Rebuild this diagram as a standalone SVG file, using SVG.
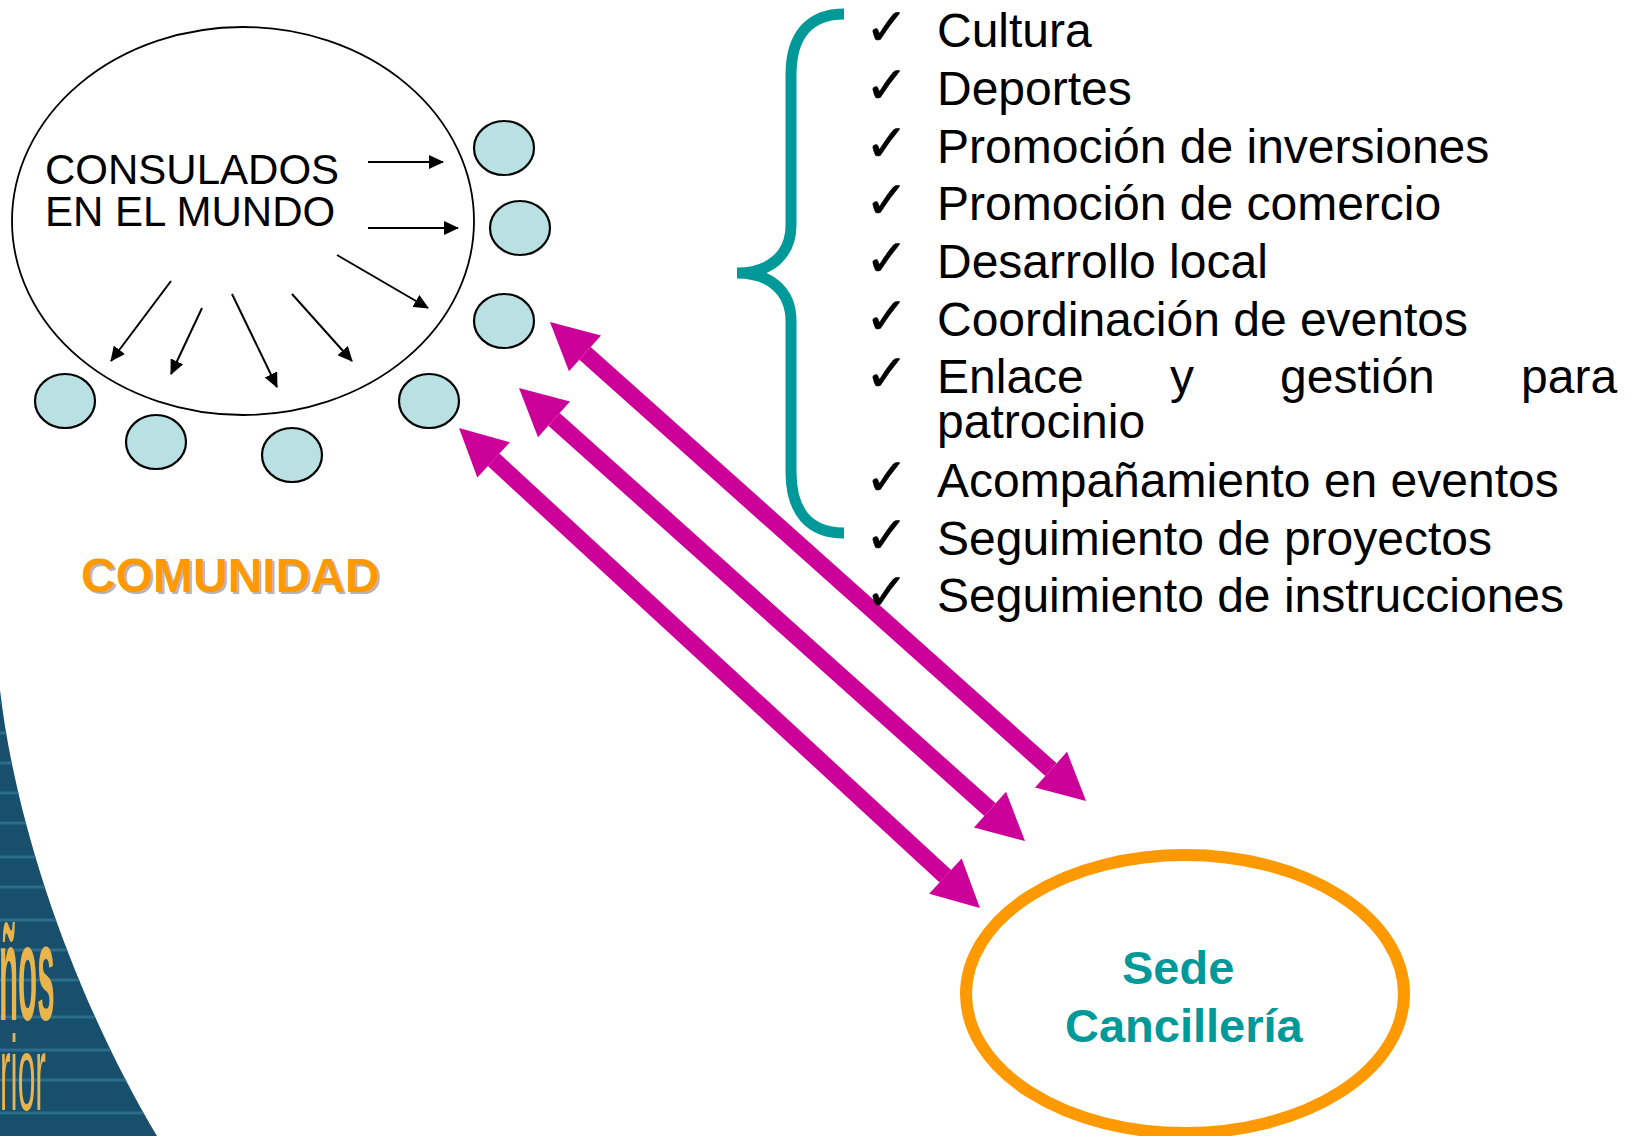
<svg xmlns="http://www.w3.org/2000/svg" width="1631" height="1136" viewBox="0 0 1631 1136">
<defs>
<style>
.bk{font-family:"Liberation Sans",Arial,sans-serif;fill:#000}
.li{font-family:"Liberation Sans",Arial,sans-serif;font-size:48px;fill:#000}
.ck{font-family:"DejaVu Sans",sans-serif;font-size:52px;fill:#000;stroke:#000;stroke-width:0.5}
.sat{fill:#B9E0E3;stroke:#000;stroke-width:2.2}
.thin{stroke:#000;stroke-width:2;fill:none;marker-end:url(#ah)}
.mag{stroke:#CC0099;stroke-width:17;fill:none;marker-start:url(#mh);marker-end:url(#mh)}
.stripe{stroke:#2C6D8B;stroke-width:3}
</style>
<marker id="ah" markerUnits="userSpaceOnUse" markerWidth="16" markerHeight="14" refX="14" refY="7" orient="auto"><path d="M0,0 L15,7 L0,14 z" fill="#000"/></marker>
<marker id="mh" markerUnits="userSpaceOnUse" markerWidth="48" markerHeight="48" refX="0" refY="24" orient="auto-start-reverse" overflow="visible"><path d="M0,0 L47,24 L0,48 z" fill="#CC0099"/></marker>
<clipPath id="logoclip"><path d="M0,690 C15,820 70,990 157,1136 L0,1136 Z"/></clipPath>
</defs>

<g id="logo">
<path d="M0,690 C15,820 70,990 157,1136 L0,1136 Z" fill="#174F6C"/>
<g clip-path="url(#logoclip)">
<line class="stripe" x1="0" y1="703" x2="170" y2="703"/>
<line class="stripe" x1="0" y1="733" x2="170" y2="733"/>
<line class="stripe" x1="0" y1="763" x2="170" y2="763"/>
<line class="stripe" x1="0" y1="793" x2="170" y2="793"/>
<line class="stripe" x1="0" y1="823" x2="170" y2="823"/>
<line class="stripe" x1="0" y1="857" x2="170" y2="857"/>
<line class="stripe" x1="0" y1="887" x2="170" y2="887"/>
<line class="stripe" x1="0" y1="920" x2="170" y2="920"/>
<line class="stripe" x1="0" y1="950" x2="170" y2="950"/>
<line class="stripe" x1="0" y1="980" x2="170" y2="980"/>
<line class="stripe" x1="0" y1="1017" x2="170" y2="1017"/>
<line class="stripe" x1="0" y1="1050" x2="170" y2="1050"/>
<line class="stripe" x1="0" y1="1080" x2="170" y2="1080"/>
<line class="stripe" x1="0" y1="1113" x2="170" y2="1113"/>
<text transform="translate(-1,1020) scale(0.23,1)" x="0" y="0" font-family="Liberation Sans, Arial, sans-serif" font-weight="bold" font-size="136" fill="#E9B44C">ños</text>
<text transform="translate(0,1110) scale(0.3,1)" x="0" y="0" font-family="Liberation Sans, Arial, sans-serif" font-size="106" fill="#E9B44C">rior</text>
</g>
</g>

<g id="connectors">
<line class="thin" x1="368" y1="162" x2="443" y2="162"/>
<line class="thin" x1="368" y1="228" x2="458" y2="228"/>
<line class="thin" x1="337" y1="255" x2="428" y2="308"/>
<line class="thin" x1="171" y1="281" x2="111" y2="361"/>
<line class="thin" x1="202" y1="308" x2="171" y2="374"/>
<line class="thin" x1="232" y1="294" x2="277" y2="387"/>
<line class="thin" x1="292" y1="294" x2="352" y2="361"/>
<line class="mag" x1="585" y1="353.3" x2="1051" y2="769.7"/>
<line class="mag" x1="554" y1="419.3" x2="990" y2="809.7"/>
<line class="mag" x1="493.6" y1="459.8" x2="945.4" y2="876.2"/>
</g>

<g id="consulados">
<ellipse cx="243" cy="221" rx="231" ry="194" fill="none" stroke="#000" stroke-width="1.8"/>
<text class="bk" x="45" y="184" font-size="42">CONSULADOS</text>
<text class="bk" x="45" y="226" font-size="42">EN EL MUNDO</text>
</g>

<g id="sat1"><ellipse class="sat" cx="504" cy="148" rx="30" ry="27"/></g>
<g id="sat2"><ellipse class="sat" cx="520" cy="228" rx="30" ry="27"/></g>
<g id="sat3"><ellipse class="sat" cx="504" cy="321" rx="30" ry="27"/></g>
<g id="sat4"><ellipse class="sat" cx="429" cy="401" rx="30" ry="27"/></g>
<g id="sat5"><ellipse class="sat" cx="65" cy="401" rx="30" ry="27"/></g>
<g id="sat6"><ellipse class="sat" cx="156" cy="442" rx="30" ry="27"/></g>
<g id="sat7"><ellipse class="sat" cx="292" cy="455" rx="30" ry="27"/></g>

<g id="comunidad">
<text x="83" y="594" font-family="Liberation Sans, Arial, sans-serif" font-weight="bold" font-size="48" fill="#B4B4B4">COMUNIDAD</text>
<text x="81" y="592" font-family="Liberation Sans, Arial, sans-serif" font-weight="bold" font-size="48" fill="#FF9900">COMUNIDAD</text>
</g>

<g id="brace">
<path d="M844,14 C810,14 791,35 791,75 L791,225 C791,255 770,273 737,273 C770,273 791,291 791,321 L791,472 C791,512 810,533 844,533" fill="none" stroke="#009999" stroke-width="11"/>
</g>

<g id="list">
<text class="ck" x="865" y="45">✓</text><text class="li" x="937" y="47">Cultura</text>
<text class="ck" x="865" y="103">✓</text><text class="li" x="937" y="105">Deportes</text>
<text class="ck" x="865" y="161">✓</text><text class="li" x="937" y="163">Promoción de inversiones</text>
<text class="ck" x="865" y="218">✓</text><text class="li" x="937" y="220">Promoción de comercio</text>
<text class="ck" x="865" y="276">✓</text><text class="li" x="937" y="278">Desarrollo local</text>
<text class="ck" x="865" y="334">✓</text><text class="li" x="937" y="336">Coordinación de eventos</text>
<text class="ck" x="865" y="391">✓</text><text class="li" x="937" y="393">Enlace</text><text class="li" x="1170" y="393">y</text><text class="li" x="1280" y="393">gestión</text><text class="li" x="1521" y="393">para</text>
<text class="li" x="937" y="438">patrocinio</text>
<text class="ck" x="865" y="495">✓</text><text class="li" x="937" y="497">Acompañamiento en eventos</text>
<text class="ck" x="865" y="553">✓</text><text class="li" x="937" y="555">Seguimiento de proyectos</text>
<text class="ck" x="865" y="610">✓</text><text class="li" x="937" y="612">Seguimiento de instrucciones</text>
</g>

<g id="sede">
<ellipse cx="1185" cy="994" rx="219" ry="139" fill="none" stroke="#FF9900" stroke-width="12"/>
<text x="1122" y="984" font-family="Liberation Sans, Arial, sans-serif" font-weight="bold" font-size="47" fill="#009999">Sede</text>
<text x="1065" y="1042" font-family="Liberation Sans, Arial, sans-serif" font-weight="bold" font-size="47" fill="#009999">Cancillería</text>
</g>
</svg>
